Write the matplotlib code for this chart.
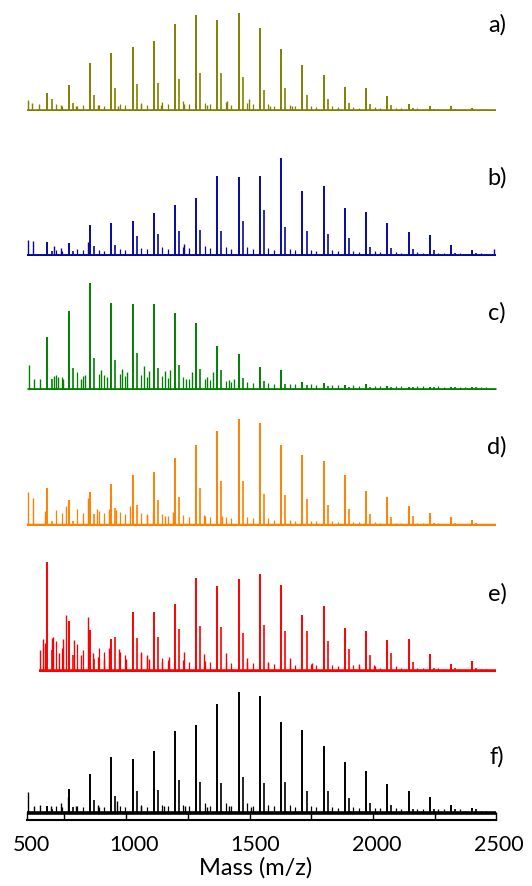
import matplotlib.pyplot as plt

plt.rcParams['font.family'] = ['Lato', 'DejaVu Sans']

# m/z of the main oligomer series and of its +17 satellite series
peak_mz = [644, 731, 819, 906, 994, 1081, 1168, 1256, 1343, 1431, 1518,
           1605, 1693, 1780, 1868, 1955, 2042, 2130, 2217, 2305, 2392]
sat_mz = [661, 748, 836, 923, 1011, 1098, 1185, 1273, 1360, 1448, 1535,
          1622, 1710, 1797, 1885, 1972, 2059, 2147, 2234, 2322, 2409]
# small background peaks between the series
grass_mz = [679, 702, 766, 789, 854, 877, 941, 964, 1029, 1052, 1116, 1139,
            1203, 1226, 1291, 1314, 1378, 1401, 1466, 1489, 1553, 1576,
            1640, 1663, 1728, 1751, 1815, 1838, 1903, 1926, 1990, 2013,
            2077, 2100, 2165, 2188, 2252, 2275, 2340, 2363, 2427, 2450]

# relative intensities (%)
a_main = [18, 26, 49, 59, 65, 71, 88, 97, 92, 100, 84, 63, 47, 37, 24, 23, 15, 7, 5, 5, 3]
a_sat = [12, 8, 16, 23, 27, 28, 32, 39, 39, 35, 21, 23, 16, 12, 8, 7, 6, 3, 2, 2, 1]
a_grass = [7, 5, 5, 6, 6, 5, 7, 6, 8, 6, 9, 7, 10, 7, 8, 7, 9, 6, 8, 7, 7,
           5, 6, 5, 5, 4, 5, 4, 4, 3, 4, 3, 3, 3, 3, 2, 2, 2, 2, 2, 2, 2]
a_extra_mz = [565, 581, 609, 700, 760, 850, 935, 1030, 1110, 1205, 1300, 1383, 1473, 1560, 1650]
a_extra = [11, 8, 7, 6, 5, 6, 5, 7, 6, 7, 6, 10, 12, 5, 5]

b_main = [14, 13, 31, 33, 35, 43, 52, 59, 81, 80, 81, 100, 66, 71, 49, 44, 33, 24, 21, 11, 6]
b_sat = [5, 5, 10, 11, 20, 22, 25, 26, 25, 35, 47, 29, 25, 22, 18, 9, 8, 7, 6, 3, 3]
b_grass = [6, 5, 7, 6, 6, 5, 7, 6, 8, 7, 9, 7, 9, 8, 10, 8, 9, 7, 9, 7, 8,
           6, 7, 6, 6, 5, 6, 5, 5, 4, 5, 4, 4, 3, 4, 3, 3, 3, 3, 2, 3, 2]
b_extra_mz = [565, 583, 669, 700, 809, 1204, 2482]
b_extra = [16, 15, 10, 8, 14, 12, 7]

c_main = [49, 74, 100, 81, 80, 80, 72, 62, 41, 33, 21, 18, 7, 6, 4, 5, 3, 2, 2, 2, 2]
c_sat = [10, 20, 30, 28, 34, 20, 23, 19, 18, 11, 8, 5, 4, 3, 2, 2, 2, 2, 2, 2, 2]
c_grass = [14, 12, 16, 13, 15, 14, 15, 13, 14, 12, 13, 11, 12, 10, 10, 9, 8, 7, 7, 6, 6,
           5, 5, 5, 5, 4, 4, 4, 4, 3, 3, 3, 3, 3, 3, 3, 3, 2, 2, 2, 2, 2]
c_extra_mz = [569, 588, 613, 672, 689, 709, 780, 798, 864, 887, 952, 973, 1041,
              1061, 1126, 1147, 1214, 1238, 1301, 1325, 1392, 1413]
c_extra = [23, 10, 10, 13, 12, 10, 10, 14, 18, 12, 19, 16, 22,
           17, 17, 18, 10, 16, 12, 16, 9, 10]

d_main = [35, 24, 32, 39, 47, 50, 63, 75, 88, 100, 96, 75, 66, 60, 47, 33, 27, 19, 12, 8, 6]
d_sat = [5, 5, 11, 17, 20, 24, 27, 35, 42, 42, 30, 29, 25, 20, 16, 11, 8, 9, 3, 3, 3]
d_grass = [15, 12, 16, 12, 14, 12, 13, 11, 12, 10, 11, 9, 10, 8, 9, 8, 8, 7, 8, 7, 7,
           6, 6, 5, 5, 5, 5, 4, 4, 4, 4, 3, 3, 3, 3, 3, 3, 2, 2, 2, 2, 2]
d_extra_mz = [565, 583, 633, 722, 809, 847, 898, 924, 984, 1055, 1077, 1126, 1161, 1287, 1364]
d_extra = [32, 26, 14, 19, 26, 16, 16, 15, 19, 11, 13, 9, 13, 10, 9]

e_main = [100, 46, 38, 30, 54, 54, 62, 85, 78, 84, 89, 79, 52, 60, 40, 37, 29, 30, 16, 7, 10]
e_sat = [20, 15, 12, 32, 31, 32, 39, 42, 41, 35, 43, 37, 37, 28, 21, 15, 17, 9, 4, 4, 4]
e_grass = [28, 22, 25, 20, 22, 18, 18, 15, 16, 13, 13, 11, 11, 9, 10, 9, 9, 8, 9, 8, 8,
           7, 7, 6, 7, 6, 6, 5, 6, 5, 5, 4, 5, 4, 4, 4, 4, 3, 3, 3, 3, 3]
e_extra_mz = [613, 625, 634, 661, 668, 693, 708, 720, 753, 781, 809, 830, 852, 875,
              896, 940, 968, 1030, 1052, 1063, 1116, 1143, 1205, 1290, 1379, 1464,
              1551, 1643, 1731, 1927, 1988]
e_extra = [20, 30, 26, 31, 32, 17, 30, 52, 29, 15, 50, 17, 14, 12,
           22, 21, 12, 18, 15, 12, 9, 14, 18, 16, 17, 13,
           9, 13, 8, 7, 6]

f_main = [6, 20, 32, 46, 45, 51, 68, 73, 90, 100, 97, 75, 69, 55, 42, 35, 24, 18, 13, 7, 4]
f_sat = [3, 5, 11, 14, 18, 19, 27, 26, 25, 30, 25, 26, 18, 18, 12, 8, 7, 3, 3, 3, 3]
f_grass = [6, 5, 6, 5, 5, 5, 6, 5, 7, 5, 7, 6, 7, 6, 8, 6, 8, 6, 8, 6, 7,
           6, 7, 5, 6, 5, 5, 4, 5, 4, 4, 4, 4, 3, 3, 3, 3, 3, 3, 2, 2, 2]
f_extra_mz = [565, 590, 615, 660, 700, 728, 760, 850, 932, 1030, 1125, 1210, 1300, 1390, 1480]
f_extra = [17, 6, 7, 6, 8, 13, 6, 7, 10, 6, 6, 6, 5, 6, 5]

names = ['a)', 'b)', 'c)', 'd)', 'e)', 'f)']
colors = ['#808000', '#0808a0', '#008000', '#ff8000', '#ff0000', '#000000']
starts = [560, 560, 560, 560, 609, 560]
end_mz = 2490

tick_labels = ['500', '1000', '1500', '2000', '2500']
tick_pos = [500, 1000, 1500, 2000, 2500]
tick_marks = [560, 713, 968, 1222, 1476, 1730, 1983, 2237, 2488]

# layout in pixels
W, H = 532, 886
x0_px, x1_px = 12.5, 498.5
baselines = [111, 255.5, 389.5, 526, 672, 813]
tops = [12.5, 157.7, 283, 418.5, 561.7, 692]
label_y = [25, 177.6, 313, 447, 594, 757]
base_lw = [2.6, 2.8, 3.4, 3.2, 4.0, 2.6]
axis_px = 820

series = [
    (a_main, a_sat, a_grass, a_extra_mz, a_extra),
    (b_main, b_sat, b_grass, b_extra_mz, b_extra),
    (c_main, c_sat, c_grass, c_extra_mz, c_extra),
    (d_main, d_sat, d_grass, d_extra_mz, d_extra),
    (e_main, e_sat, e_grass, e_extra_mz, e_extra),
    (f_main, f_sat, f_grass, f_extra_mz, f_extra),
]

fig = plt.figure(figsize=(W / 100, H / 100), dpi=100)

for i, (main, sat, grass, ex_mz, ex) in enumerate(series):
    last = i == len(series) - 1
    base, top = baselines[i], tops[i]
    bottom = axis_px if last else base
    ax = fig.add_axes([x0_px / W, 1 - bottom / H, (x1_px - x0_px) / W, (bottom - top) / H])
    per_px = 100.0 / (base - top)
    ax.set_xlim(500, 2500)
    ax.set_ylim(-(bottom - base) * per_px, 100)
    col = colors[i]
    ax.plot([starts[i], end_mz], [0, 0], color=col, lw=base_lw[i], solid_capstyle='butt')
    ax.vlines(grass_mz, 0, grass, color=col, lw=0.9)
    ax.vlines(ex_mz, 0, ex, color=col, lw=1.0)
    ax.vlines(sat_mz, 0, sat, color=col, lw=1.2)
    ax.vlines(peak_mz, 0, main, color=col, lw=1.4)
    for s in ax.spines.values():
        s.set_visible(False)
    ax.set_yticks([])
    if last:
        sp = ax.spines['bottom']
        sp.set_visible(True)
        sp.set_bounds(tick_marks[0], tick_marks[-1])
        sp.set_linewidth(1.5)
        ax.set_xticks(tick_pos, labels=tick_labels)
        ax.set_xticks(tick_marks, minor=True)
        ax.tick_params(axis='x', which='major', length=0, pad=11, labelsize=15.5)
        ax.tick_params(axis='x', which='minor', direction='in', length=5.5, width=1.0)
        ax.get_xticklabels()[0].set_horizontalalignment('left')
        ax.set_xlabel('Mass (m/z)', fontsize=17, labelpad=1)
    else:
        ax.set_xticks([])
    fig.text(497 / W, 1 - label_y[i] / H, names[i], ha='center', va='center', fontsize=17)

fig.savefig('out.png', dpi=100)
